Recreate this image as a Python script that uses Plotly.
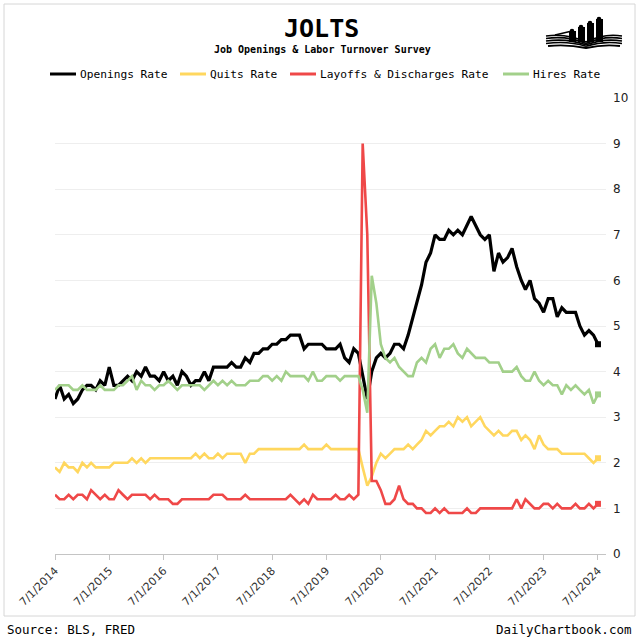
import pandas as pd
import plotly.graph_objects as go

# ---------------- data ----------------
months = pd.date_range("2014-07-01", periods=121, freq="MS")

openings = [3.4, 3.7, 3.4, 3.5, 3.3, 3.4, 3.6, 3.7, 3.7, 3.6,
            3.8, 3.7, 4.1, 3.7, 3.7, 3.8, 3.9, 3.8, 4.0, 3.9,
            4.1, 3.9, 3.9, 3.8, 4.0, 3.8, 3.9, 3.7, 4.0, 3.9,
            3.7, 3.8, 3.8, 4.0, 3.8, 4.1, 4.1, 4.1, 4.1, 4.2,
            4.1, 4.1, 4.3, 4.2, 4.4, 4.4, 4.5, 4.5, 4.6, 4.6,
            4.7, 4.7, 4.8, 4.8, 4.8, 4.5, 4.6, 4.6, 4.6, 4.6,
            4.5, 4.5, 4.5, 4.6, 4.3, 4.2, 4.5, 4.4, 3.9, 3.4,
            4.0, 4.3, 4.4, 4.3, 4.4, 4.6, 4.6, 4.5, 4.8, 5.2,
            5.5, 5.9, 6.4, 6.6, 7.0, 6.9, 6.9, 7.1, 7.0, 7.1,
            7.0, 7.2, 7.4, 7.2, 7.0, 6.9, 7.0, 6.2, 6.6, 6.4,
            6.5, 6.7, 6.3, 6.0, 5.8, 6.0, 5.6, 5.5, 5.3, 5.6,
            5.6, 5.2, 5.4, 5.3, 5.3, 5.3, 5.0, 4.8, 4.9, 4.8,
            4.6]

quits = [1.9, 1.8, 2.0, 1.9, 1.9, 1.8, 2.0, 1.9, 2.0, 1.9,
         1.9, 1.9, 1.9, 2.0, 2.0, 2.0, 2.0, 2.1, 2.0, 2.1,
         2.0, 2.1, 2.1, 2.1, 2.1, 2.1, 2.1, 2.1, 2.1, 2.1,
         2.1, 2.2, 2.1, 2.2, 2.1, 2.1, 2.2, 2.1, 2.2, 2.2,
         2.2, 2.2, 2.0, 2.2, 2.2, 2.3, 2.3, 2.3, 2.3, 2.3,
         2.3, 2.3, 2.3, 2.3, 2.3, 2.4, 2.3, 2.3, 2.3, 2.3,
         2.4, 2.3, 2.3, 2.3, 2.3, 2.3, 2.3, 2.3, 1.9, 1.5,
         1.7, 2.0, 2.2, 2.1, 2.2, 2.3, 2.3, 2.3, 2.4, 2.3,
         2.4, 2.5, 2.7, 2.6, 2.7, 2.8, 2.8, 2.9, 2.8, 3.0,
         2.9, 3.0, 2.8, 2.9, 3.0, 2.8, 2.7, 2.6, 2.7, 2.6,
         2.6, 2.7, 2.7, 2.5, 2.6, 2.5, 2.3, 2.6, 2.4, 2.3,
         2.3, 2.3, 2.2, 2.2, 2.2, 2.2, 2.2, 2.2, 2.1, 2.0,
         2.1]

layoffs = [1.3, 1.2, 1.2, 1.3, 1.2, 1.3, 1.3, 1.2, 1.4, 1.3,
           1.2, 1.3, 1.2, 1.2, 1.4, 1.3, 1.2, 1.3, 1.3, 1.3,
           1.3, 1.2, 1.3, 1.2, 1.2, 1.2, 1.1, 1.1, 1.2, 1.2,
           1.2, 1.2, 1.2, 1.2, 1.2, 1.3, 1.3, 1.3, 1.2, 1.2,
           1.2, 1.2, 1.3, 1.2, 1.2, 1.2, 1.2, 1.2, 1.2, 1.2,
           1.2, 1.2, 1.3, 1.2, 1.1, 1.2, 1.1, 1.3, 1.2, 1.2,
           1.2, 1.2, 1.3, 1.2, 1.2, 1.3, 1.2, 1.3, 9.0, 7.0,
           1.6, 1.6, 1.4, 1.1, 1.1, 1.2, 1.5, 1.2, 1.1, 1.1,
           1.0, 1.0, 0.9, 0.9, 1.0, 0.9, 1.0, 0.9, 0.9, 0.9,
           0.9, 1.0, 0.9, 0.9, 1.0, 1.0, 1.0, 1.0, 1.0, 1.0,
           1.0, 1.0, 1.2, 1.0, 1.2, 1.1, 1.0, 1.0, 1.1, 1.1,
           1.0, 1.1, 1.0, 1.0, 1.0, 1.1, 1.0, 1.0, 1.1, 1.0,
           1.1]

hires = [3.6, 3.7, 3.7, 3.7, 3.6, 3.6, 3.7, 3.6, 3.6, 3.6,
         3.7, 3.6, 3.6, 3.6, 3.7, 3.7, 3.8, 3.9, 3.6, 3.8,
         3.7, 3.7, 3.6, 3.7, 3.7, 3.8, 3.7, 3.6, 3.7, 3.7,
         3.7, 3.7, 3.7, 3.6, 3.7, 3.8, 3.7, 3.8, 3.7, 3.8,
         3.7, 3.7, 3.7, 3.8, 3.8, 3.8, 3.9, 3.9, 3.8, 3.9,
         3.8, 4.0, 3.9, 3.9, 3.9, 3.9, 3.8, 4.0, 3.8, 3.8,
         3.9, 3.9, 3.9, 3.8, 3.9, 3.9, 3.9, 3.9, 3.6, 3.1,
         6.1, 5.5, 4.6, 4.3, 4.2, 4.3, 4.1, 4.0, 3.9, 3.9,
         4.2, 4.3, 4.2, 4.5, 4.6, 4.3, 4.5, 4.5, 4.6, 4.4,
         4.3, 4.5, 4.4, 4.3, 4.3, 4.3, 4.2, 4.2, 4.2, 4.0,
         4.0, 4.0, 4.1, 3.9, 3.8, 3.8, 4.0, 3.8, 3.7, 3.8,
         3.7, 3.7, 3.5, 3.7, 3.6, 3.7, 3.6, 3.5, 3.6, 3.3,
         3.5]

series_names = ["Openings Rate", "Quits Rate", "Layoffs & Discharges Rate", "Hires Rate"]
tick_dates = ["2014-07-01", "2015-07-01", "2016-07-01", "2017-07-01", "2018-07-01", "2019-07-01",
              "2020-07-01", "2021-07-01", "2022-07-01", "2023-07-01", "2024-07-01"]
tick_labels = ["7/1/2014", "7/1/2015", "7/1/2016", "7/1/2017", "7/1/2018", "7/1/2019",
               "7/1/2020", "7/1/2021", "7/1/2022", "7/1/2023", "7/1/2024"]
y_ticks = [0, 1, 2, 3, 4, 5, 6, 7, 8, 9, 10]

# ---------------- layout geometry ----------------
W, H = 640, 638
L, R, T, B = 55, 34, 98, 84
PW, PH = W - L - R, H - T - B


def px(x, y):
    return (x - L) / PW, (H - B - y) / PH


def path(points):
    s = ""
    for cmd, pts in points:
        s += cmd
        s += " ".join("%.5f,%.5f" % px(*p) for p in pts) + " "
    return s.strip()


colors = ["#000000", "#FFD75E", "#EF4848", "#A2D08A"]
widths = [3.2, 2.6, 2.6, 2.6]
values = [openings, quits, layoffs, hires]

fig = go.Figure()
for name, vals, c, w in zip(series_names, values, colors, widths):
    fig.add_trace(go.Scatter(x=months, y=vals, mode="lines", name=name, showlegend=False,
                             line=dict(color=c, width=w), cliponaxis=False, hoverinfo="skip"))
for name, vals, c in zip(series_names, values, colors):
    fig.add_trace(go.Scatter(x=months[-1:], y=vals[-1:], mode="markers", showlegend=False,
                             marker=dict(color=c, size=6, symbol="square"), cliponaxis=False,
                             hoverinfo="skip"))

shapes = []
annotations = []


def add_text(text, x, y, size, anchor="center", bold=False, family="DejaVu Sans Mono", color="#000"):
    ax, ay = px(x, y)
    annotations.append(dict(text=("<b>%s</b>" % text) if bold else text, x=ax, y=ay,
                            xref="paper", yref="paper", xanchor=anchor, yanchor="middle",
                            showarrow=False, font=dict(family=family, size=size, color=color)))


def add_line(pts, color, width):
    shapes.append(dict(type="path", xref="paper", yref="paper",
                       path=path([("M", [pts[0]]), ("L", pts[1:])]),
                       line=dict(color=color, width=width)))


# outer frame
x0, y0 = px(4, 4)
x1, y1 = px(635, 616)
shapes.append(dict(type="rect", xref="paper", yref="paper", x0=x0, y0=y1, x1=x1, y1=y0,
                   line=dict(color="#d6d6d6", width=1), layer="below"))

# custom legend (line sample + text)
legend_x = [50, 180, 290, 503]
for name, c, lx in zip(series_names, colors, legend_x):
    add_line([(lx, 74), (lx + 26, 74)], c, 3)
    add_text(name.replace("&", "&amp;"), lx + 28, 74, 11.2, anchor="left")

# logo (book with bar chart)
for (bx0, bx1, bt, bb) in [(569, 576, 31, 42), (578, 585, 27, 42), (587, 594, 23, 42), (596, 603, 19, 42)]:
    a0, c0 = px(bx0, bb)
    a1, c1 = px(bx1, bt)
    shapes.append(dict(type="rect", xref="paper", yref="paper", x0=a0, y0=c0, x1=a1, y1=c1,
                       fillcolor="black", line=dict(width=0)))
add_line([(555, 35), (572, 31), (581, 27), (590, 23), (599, 19), (616, 12)], "black", 1.5)
for (cx, cy) in [(572, 31), (581, 27), (590, 23), (599, 19)]:
    a0, c0 = px(cx - 2.3, cy + 2.3)
    a1, c1 = px(cx + 2.3, cy - 2.3)
    shapes.append(dict(type="circle", xref="paper", yref="paper", x0=a0, y0=c0, x1=a1, y1=c1,
                       fillcolor="black", line=dict(width=0)))
for k, yl in enumerate([36, 38.5, 41, 43.5]):
    shapes.append(dict(type="path", xref="paper", yref="paper",
                       path=path([("M", [(586, 42 + k * 1.4)]), ("Q", [(567, yl - 3), (546, yl)])]),
                       line=dict(color="black", width=1.6)))
    shapes.append(dict(type="path", xref="paper", yref="paper",
                       path=path([("M", [(586, 42 + k * 1.4)]), ("Q", [(604, yl - 3), (622, yl)])]),
                       line=dict(color="black", width=1.6)))
shapes.append(dict(type="path", xref="paper", yref="paper",
                   path=path([("M", [(548, 46)]), ("Q", [(567, 44), (586, 48)]), ("Q", [(604, 44), (620, 46)])]),
                   line=dict(color="black", width=1.8)))

add_text("JOLTS", 321, 29, 25, bold=True)
add_text("Job Openings &amp; Labor Turnover Survey", 322, 50, 10, bold=True)
add_text("Source: BLS, FRED", 5, 629, 12.5, anchor="left")
add_text("DailyChartbook.com", 633, 629, 12.5, anchor="right")

fig.update_layout(
    width=W, height=H,
    margin=dict(l=L, r=R, t=T, b=B, pad=0, autoexpand=False),
    paper_bgcolor="white", plot_bgcolor="white",
    showlegend=False,
    hovermode=False,
    shapes=shapes,
    annotations=annotations,
    xaxis=dict(type="date", range=["2014-07-01", "2024-08-24"], tickvals=tick_dates, ticktext=tick_labels,
               tickangle=-45, ticks="outside", ticklen=5, tickcolor="#c4c4c4", showline=True,
               linecolor="#c4c4c4", linewidth=1, showgrid=False, zeroline=False, automargin=False,
               tickfont=dict(family="DejaVu Sans", size=11, color="#333")),
    yaxis=dict(side="right", range=[0, 10], tickvals=y_ticks, showgrid=True, gridcolor="#eeeeee",
               gridwidth=1, zeroline=False, showline=False, ticks="", ticklabelstandoff=6,
               automargin=False,
               tickfont=dict(family="DejaVu Sans", size=12, color="#222")),
)

fig.write_html("out.html", config={"displayModeBar": False},
               post_script="document.body.style.margin='0';document.body.style.overflow='hidden';")
